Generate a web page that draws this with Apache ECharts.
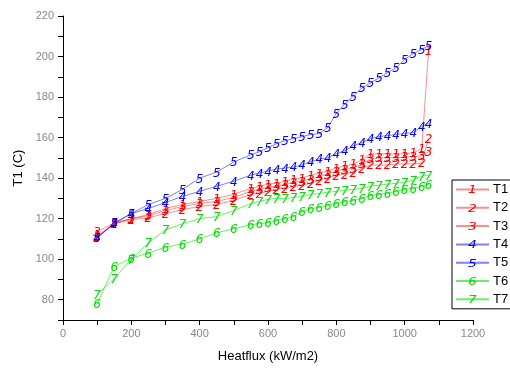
<!DOCTYPE html>
<html>
<head>
<meta charset="utf-8">
<script src="https://cdn.jsdelivr.net/npm/echarts@6/dist/echarts.min.js"></script>
<style>
  html, body { margin: 0; padding: 0; background: #fff; }
  #chart { width: 510px; height: 368px; }
</style>
</head>
<body>
<div id="chart"></div>
<script>
// heat flux (kW/m2)
const heatflux = [100, 150, 200, 250, 300, 350, 400, 450, 500,
  550, 575, 600, 625, 650, 675, 700, 725, 750, 775, 800, 825, 850,
  875, 900, 925, 950, 975, 1000, 1025, 1050, 1070];

// temperatures (C)
const t1 = [111.5, 117.5, 120, 122, 125, 127, 128.5, 130, 132,
  135, 136, 137, 137.5, 138.5, 139.5, 140, 141.5, 142.5, 143.5, 145, 146, 147,
  149, 152, 152, 152, 152, 152, 152.5, 154.5, 203];
const t2 = [111, 117.5, 119.5, 120.5, 122.5, 124.5, 126, 127, 129,
  132, 132.5, 133.5, 134.5, 135, 136, 136.5, 137.5, 139, 140, 141.5, 142, 143,
  145, 146.5, 146.5, 146.5, 147, 147, 147, 147.5, 159.5];
const t3 = [113.5, 118, 120, 121.5, 124, 126, 127.5, 128.5, 130.5,
  133.5, 134.5, 135.5, 136, 137, 138, 138.5, 139.5, 141, 142, 143.5, 144.5, 145,
  147, 149.5, 150, 150, 150, 150.5, 150.5, 151, 153];
const t4 = [110.5, 117.5, 122.5, 125, 128, 131, 133.5, 136, 138.5,
  141.5, 142.5, 143.5, 144.5, 145, 145.5, 146.5, 148, 149.5, 150, 152, 153.5, 156,
  157.5, 159.5, 160.5, 161, 161.5, 162, 162.5, 165.5, 167];
const t5 = [110.5, 118, 122.5, 127, 130, 134.5, 140, 143, 148,
  151.5, 153, 155, 157, 158.5, 159.5, 160.5, 161.5, 162, 165, 172, 176.5, 180.5,
  184.5, 187, 189.5, 192, 194.5, 198.5, 201.5, 203.5, 205.5];
const t6 = [78, 96.5, 100.5, 103, 106, 107.5, 110, 113, 115,
  117, 117.5, 118, 119, 120, 121, 123.5, 125, 125.5, 126.5, 127.5, 128.5, 129,
  130, 131.5, 132, 132.5, 133.5, 134.5, 135, 136, 137];
const t7 = [82.5, 90.5, 100, 108, 114.5, 117.5, 120, 121, 124,
  127.5, 128.5, 129.5, 130, 130, 130.5, 131, 132, 132.5, 133, 133.5, 134, 134.5,
  135, 136, 136.5, 137, 137.5, 138, 139, 141, 141.5];

const names = ['T1', 'T2', 'T3', 'T4', 'T5', 'T6', 'T7'];
const values = [t1, t2, t3, t4, t5, t6, t7];
const markColors = ['#ff0000', '#ff0000', '#ff0000', '#0000ff', '#0000ff', '#00e000', '#00e000'];
const lineColors = ['rgba(255,0,0,0.45)', 'rgba(255,0,0,0.45)', 'rgba(255,0,0,0.45)',
  'rgba(0,0,255,0.5)', 'rgba(0,0,255,0.5)', 'rgba(0,230,0,0.6)', 'rgba(0,230,0,0.6)'];

// numbered marker drawn as a small svg image
function digitSymbol(n, color) {
  const svg = '<svg xmlns="http://www.w3.org/2000/svg" width="9" height="12">' +
    '<text x="4.5" y="10.5" text-anchor="middle" font-family="DejaVu Sans" font-style="italic" ' +
    'font-size="12" fill="' + color + '">' + n + '</text></svg>';
  return 'image://data:image/svg+xml;charset=utf-8,' + encodeURIComponent(svg);
}

const chart = echarts.init(document.getElementById('chart'));

const series = names.map((name, k) => ({
  name: name,
  type: 'line',
  data: heatflux.map((x, i) => [x, values[k][i]]),
  symbol: digitSymbol(k + 1, markColors[k]),
  symbolSize: [9, 12],
  showAllSymbol: true,
  lineStyle: { color: lineColors[k], width: 1 },
  itemStyle: { color: lineColors[k] },
  emphasis: { disabled: true }
}));

chart.setOption({
  animation: false,
  textStyle: { fontFamily: 'Liberation Sans' },
  grid: { left: 63, right: 37, top: 16, bottom: 48 },
  xAxis: {
    type: 'value',
    min: 0, max: 1200, interval: 100,
    name: 'Heatflux (kW/m2)',
    nameLocation: 'middle',
    nameGap: 30,
    nameTextStyle: { fontSize: 13, color: '#000' },
    axisLine: { lineStyle: { color: '#000' } },
    axisTick: { length: 5, lineStyle: { color: '#000' } },
    axisLabel: {
      fontSize: 11, color: '#888', margin: 8,
      formatter: v => (v % 200 === 0 ? String(v) : '')
    },
    splitLine: { show: false }
  },
  yAxis: {
    type: 'value',
    min: 70, max: 220, interval: 10,
    name: 'T1 (C)',
    nameLocation: 'middle',
    nameGap: 38,
    nameTextStyle: { fontSize: 13, color: '#000' },
    axisLine: { show: true, lineStyle: { color: '#000' } },
    axisTick: { show: true, length: 5, lineStyle: { color: '#000' } },
    axisLabel: {
      fontSize: 11, color: '#888', margin: 9,
      formatter: v => (v % 20 === 0 ? String(v) : '')
    },
    splitLine: { show: false }
  },
  legend: {
    orient: 'vertical',
    left: 452, top: 180,
    padding: [3, 40, 3, 3],
    itemWidth: 33, itemHeight: 13, itemGap: 5.3,
    borderColor: '#000', borderWidth: 1,
    textStyle: { fontSize: 13, color: '#000', padding: [0, 0, 0, -1] },
    data: names
  },
  series: series
});
</script>
</body>
</html>
